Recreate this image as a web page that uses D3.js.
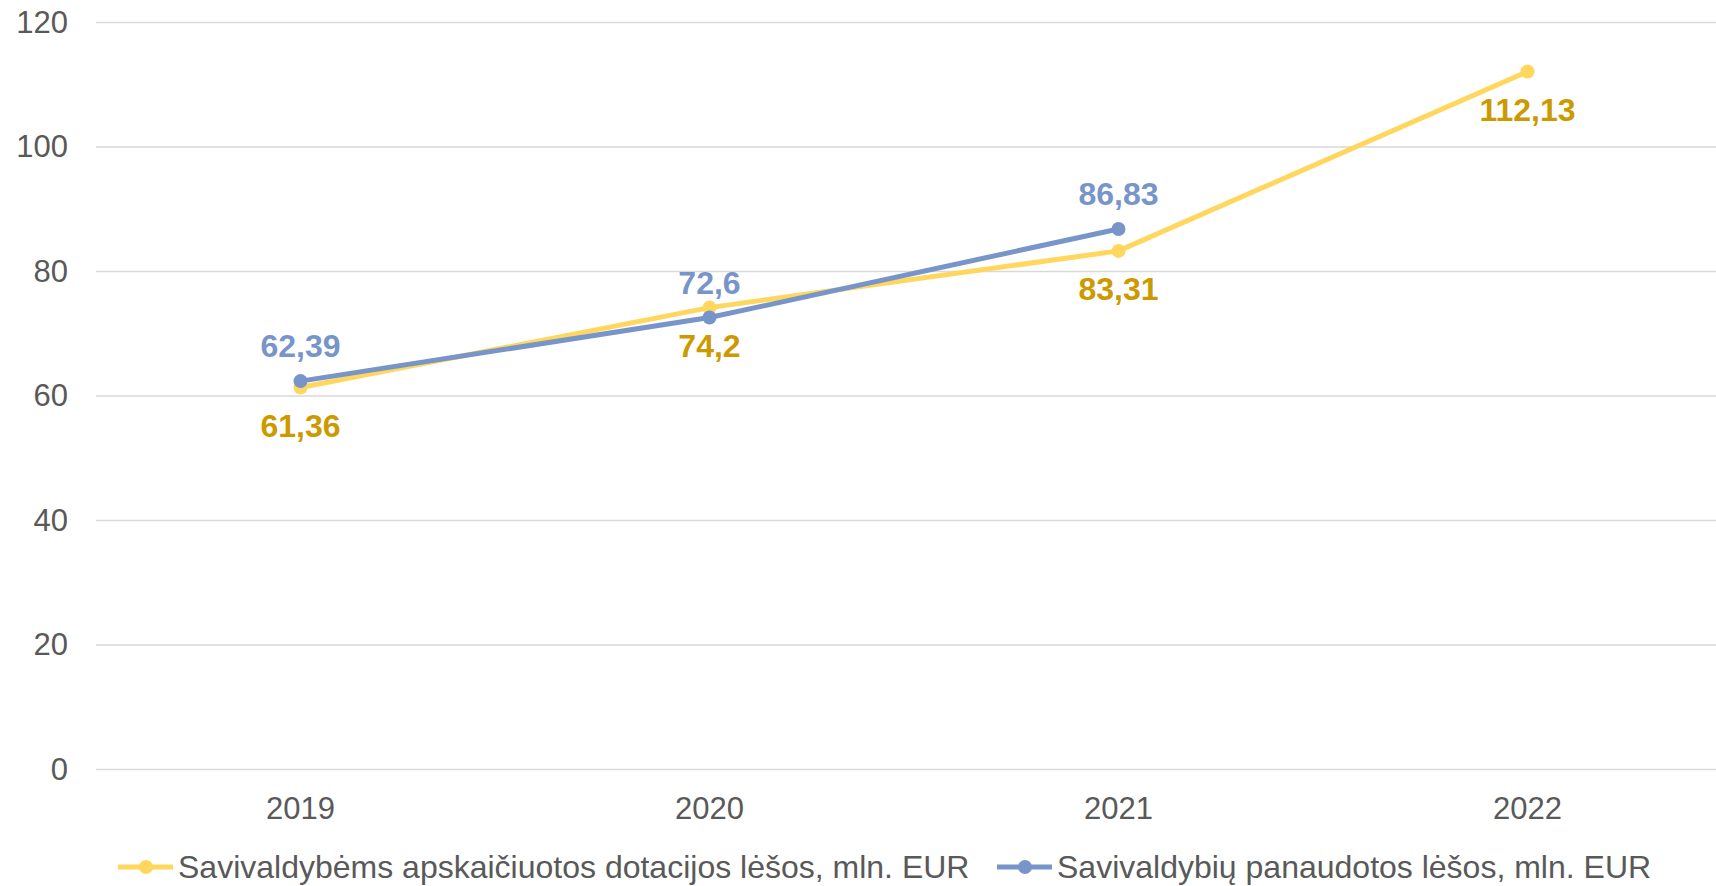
<!DOCTYPE html>
<html>
<head>
<meta charset="utf-8">
<script src="https://cdn.jsdelivr.net/npm/d3@7"></script>
<style>
  body { margin: 0; background: #fff; }
  svg { display: block; font-family: Arial, "Liberation Sans", sans-serif; }
  .tick text { fill: #595959; font-size: 31px; }
</style>
</head>
<body>
<svg id="chart" width="1716" height="886"></svg>
<script>
// data
const years = ['2019', '2020', '2021', '2022'];
const allocated = [61.36, 74.2, 83.31, 112.13];   // Savivaldybėms apskaičiuotos dotacijos lėšos
const used = [62.39, 72.6, 86.83];                // Savivaldybių panaudotos lėšos
const yTicks = [0, 20, 40, 60, 80, 100, 120];
const seriesNames = [
    'Savivaldybėms apskaičiuotos dotacijos lėšos, mln. EUR',
    'Savivaldybių panaudotos lėšos, mln. EUR'
];

const gold = '#FFD75E';
const goldText = '#CC9A00';
const blue = '#7795C9';

const svg = d3.select('#chart');

const xScale = d3.scaleBand()
    .domain(years)
    .range([96, 1732]);

const yScale = d3.scaleLinear()
    .domain([0, 120])
    .range([769.5, 22.5]);

// gridlines
svg.append('g')
    .selectAll('line')
    .data(yTicks)
    .join('line')
    .attr('x1', 96)
    .attr('x2', 1716)
    .attr('y1', d => yScale(d))
    .attr('y2', d => yScale(d))
    .attr('stroke', '#D9D9D9')
    .attr('stroke-width', 1.5);

// y axis labels
const yAxis = svg.append('g')
    .attr('transform', 'translate(68,0)')
    .call(d3.axisLeft(yScale).tickValues(yTicks).tickSize(0).tickPadding(0));
yAxis.select('.domain').remove();

// x axis labels
const xAxis = svg.append('g')
    .attr('transform', `translate(0,${yScale(0) + 27})`)
    .call(d3.axisBottom(xScale).tickSize(0).tickPadding(0));
xAxis.select('.domain').remove();
xAxis.selectAll('text').attr('dy', '0.71em');

const cx = d => xScale(d) + xScale.bandwidth() / 2;

function drawSeries(values, color) {
    const pts = values.map((v, i) => ({ year: years[i], v }));
    const line = d3.line().x(d => cx(d.year)).y(d => yScale(d.v));
    const g = svg.append('g');
    g.append('path')
        .datum(pts)
        .attr('d', line)
        .attr('fill', 'none')
        .attr('stroke', color)
        .attr('stroke-width', 5)
        .attr('stroke-linejoin', 'round');
    g.selectAll('circle')
        .data(pts)
        .join('circle')
        .attr('cx', d => cx(d.year))
        .attr('cy', d => yScale(d.v))
        .attr('r', 7)
        .attr('fill', color);
    return pts;
}

const goldPts = drawSeries(allocated, gold);
const bluePts = drawSeries(used, blue);

const fmt = v => String(v).replace('.', ',');

// value labels
svg.append('g')
    .selectAll('text')
    .data(goldPts)
    .join('text')
    .attr('x', d => cx(d.year))
    .attr('y', d => yScale(d.v) + 38)
    .attr('dy', '0.35em')
    .attr('text-anchor', 'middle')
    .attr('font-size', 32)
    .attr('font-weight', 'bold')
    .attr('fill', goldText)
    .text(d => fmt(d.v));

svg.append('g')
    .selectAll('text')
    .data(bluePts)
    .join('text')
    .attr('x', d => cx(d.year))
    .attr('y', d => yScale(d.v) - 35)
    .attr('dy', '0.35em')
    .attr('text-anchor', 'middle')
    .attr('font-size', 32)
    .attr('font-weight', 'bold')
    .attr('fill', blue)
    .text(d => fmt(d.v));

// legend
const legend = svg.append('g').attr('transform', 'translate(0,867)');
const legendX = [118, 997];
[gold, blue].forEach((c, i) => {
    const lg = legend.append('g').attr('transform', `translate(${legendX[i]},0)`);
    lg.append('line')
        .attr('x1', 0).attr('x2', 55)
        .attr('stroke', c).attr('stroke-width', 5);
    lg.append('circle')
        .attr('cx', 28).attr('r', 7).attr('fill', c);
    lg.append('text')
        .attr('x', 60)
        .attr('dy', '0.35em')
        .attr('font-size', 32)
        .attr('fill', '#595959')
        .text(seriesNames[i]);
});
</script>
</body>
</html>
